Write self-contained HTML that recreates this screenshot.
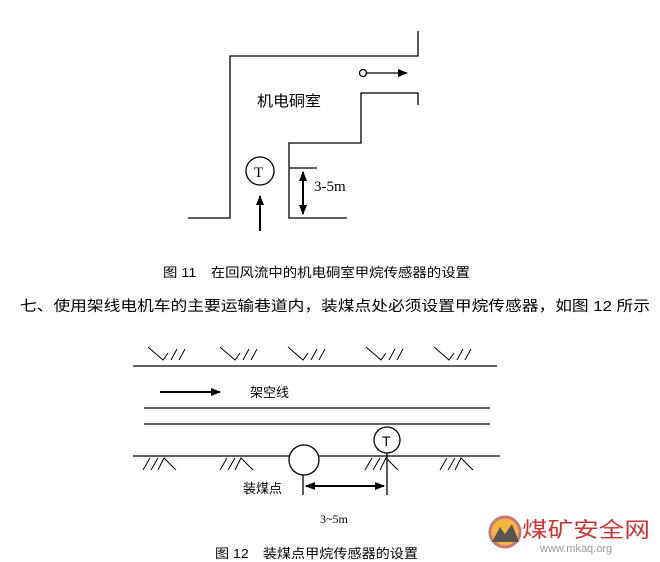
<!DOCTYPE html><html><head><meta charset="utf-8"><style>
body{margin:0;background:#fff;width:660px;height:562px;overflow:hidden}
svg{display:block}
.c{font-family:"Liberation Sans","Noto Sans CJK SC",sans-serif}
.s{font-family:"Liberation Serif","Noto Serif CJK SC",serif}
</style></head><body>
<svg width="660" height="562" viewBox="0 0 660 562">
<defs><marker id="a" markerWidth="10" markerHeight="8" refX="9" refY="4" orient="auto" markerUnits="userSpaceOnUse"><path d="M0,0 L10,4 L0,8z" fill="#000"/></marker>
<marker id="b" markerWidth="10" markerHeight="8" refX="1" refY="4" orient="auto" markerUnits="userSpaceOnUse"><path d="M10,0 L0,4 L10,8z" fill="#000"/></marker></defs>
<g stroke="#000" stroke-width="1.3" fill="none">
<polyline points="188,218 230,218 230,56 418,56 418,31"/>
<polyline points="418,105 418,93 361,93 361,143 289,143 289,218 347,218"/>
<line x1="289" y1="168" x2="317" y2="168"/>
<line x1="303" y1="172" x2="303" y2="214" stroke-width="2" marker-start="url(#b)" marker-end="url(#a)"/>
<circle cx="260" cy="171" r="14"/>
<line x1="260" y1="231" x2="260" y2="196" stroke-width="2" marker-end="url(#a)"/>
<circle cx="363" cy="73" r="3.5"/>
<line x1="367" y1="73" x2="407" y2="73" marker-end="url(#a)"/>
<line x1="133" y1="366" x2="497" y2="366"/>
<line x1="144" y1="408" x2="490" y2="408"/>
<line x1="144" y1="424" x2="490" y2="424"/>
<line x1="133" y1="456" x2="289" y2="456"/><line x1="319" y1="456" x2="500" y2="456"/>
<line x1="160" y1="392" x2="220" y2="392" stroke-width="2" marker-end="url(#a)"/>
<circle cx="304" cy="460" r="15"/>
<circle cx="387" cy="440" r="13"/>
<line x1="387" y1="453" x2="387" y2="495"/>
<line x1="303" y1="475" x2="303" y2="495"/>
<line x1="306" y1="486" x2="384" y2="486" stroke-width="2" marker-start="url(#b)" marker-end="url(#a)"/>
</g>
<g stroke="#000" stroke-width="1" fill="none">
<path id="h" d="M148,347 L163,360 L168,353 M171,360 L177,349 M179,360 L185,349"/>
<use href="#h" x="72"/><use href="#h" x="140"/><use href="#h" x="218"/><use href="#h" x="286"/>
<path id="g" d="M143,470 L150,458 M151,470 L158,458 M158,470 L164,458 L176,470"/>
<use href="#g" x="77"/><use href="#g" x="222"/><use href="#g" x="297"/>
</g>
<g class="c" font-size="15" fill="#000">
<text x="257" y="106" textLength="64" lengthAdjust="spacingAndGlyphs">机电硐室</text>
<text x="250" y="397" font-size="13">架空线</text>
<text x="243" y="493" font-size="13">装煤点</text>
<text x="163" y="277" font-size="13" textLength="307" lengthAdjust="spacingAndGlyphs">图 11　在回风流中的机电硐室甲烷传感器的设置</text>
<text x="20" y="311" font-size="14.5" textLength="630" lengthAdjust="spacingAndGlyphs">七、使用架线电机车的主要运输巷道内，装煤点处必须设置甲烷传感器，如图 12 所示</text>
<text x="215" y="558" font-size="13" textLength="203" lengthAdjust="spacingAndGlyphs">图 12　装煤点甲烷传感器的设置</text>
</g>
<g class="s" fill="#000">
<text x="314" y="191" font-size="15">3-5m</text>
<text x="254" y="177" font-size="15">T</text>
<text x="382" y="446" font-size="14" class="c">T</text>
<text x="320" y="523" font-size="12">3~5m</text>
</g>
<g>
<circle cx="505" cy="532" r="15" fill="#f2b640" stroke="#c77" stroke-width="3"/>
<path d="M492,542 L500,527 L505,534 L512,524 L519,542z" fill="#555"/>
<text x="522" y="537" class="c" font-size="21" fill="#c33" textLength="128" lengthAdjust="spacingAndGlyphs">煤矿安全网</text>
<text x="540" y="552" class="c" font-size="11" fill="#999">www.mkaq.org</text>
</g>
</svg></body></html>
